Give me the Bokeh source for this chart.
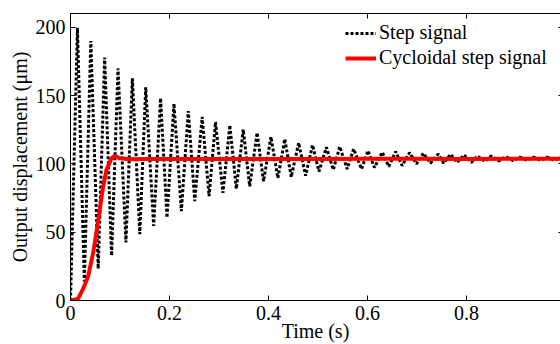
from bokeh.plotting import figure
from bokeh.models import Range1d, LinearAxis, Legend, LegendItem, FixedTicker
from bokeh.embed import file_html
from bokeh.resources import INLINE

# Step signal: extrema (time in s, displacement in um)
step_t = [0.000, 0.014, 0.028, 0.041, 0.056, 0.069, 0.083, 0.096, 0.112, 0.125,
          0.140, 0.152, 0.168, 0.182, 0.195, 0.209, 0.224, 0.238, 0.251, 0.266,
          0.280, 0.293, 0.308, 0.322, 0.335, 0.349, 0.362, 0.377, 0.390, 0.405,
          0.419, 0.433, 0.446, 0.461, 0.475, 0.489, 0.502, 0.517, 0.531, 0.544,
          0.559, 0.572, 0.588, 0.601, 0.614, 0.630, 0.643, 0.657, 0.670, 0.685,
          0.699, 0.713, 0.727, 0.743, 0.754, 0.768, 0.781, 0.795, 0.810, 0.822,
          0.838, 0.850, 0.866, 0.879, 0.894, 0.908, 0.922, 0.935, 0.950, 0.963,
          0.978, 0.990]
step_v = [0.0, 199.5, 14.0, 189.9, 23.2, 177.8, 32.8, 169.8, 42.5, 162.5,
          48.6, 156.0, 54.6, 148.0, 60.6, 144.0, 65.4, 138.6, 72.7, 134.3,
          76.3, 130.6, 78.8, 128.3, 81.7, 125.1, 83.6, 122.7, 87.2, 119.8,
          89.6, 118.1, 90.3, 115.4, 91.3, 113.8, 94.4, 112.1, 95.7, 112.6,
          96.2, 110.9, 96.2, 109.6, 97.3, 108.5, 98.0, 109.0, 98.6, 108.2,
          100.0, 107.7, 100.5, 107.2, 100.5, 107.0, 101.0, 106.5, 101.0, 105.8,
          101.7, 105.8, 102.0, 105.3, 102.3, 104.9, 102.5, 104.9, 102.5, 104.9,
          102.5, 104.5]

# Cycloidal step signal
cyc_t = [0.000, 0.005, 0.0155, 0.0257, 0.0358, 0.0459, 0.0525, 0.0592, 0.066,
         0.0727, 0.0828, 0.0895, 0.0996, 0.12, 0.15, 0.2, 0.3, 0.4, 0.5, 0.6,
         0.7, 0.8, 0.9, 0.99]
cyc_v = [0.0, 0.3, 1.4, 8.7, 18.0, 35.0, 50.0, 67.0, 83.5,
         95.6, 104.0, 105.8, 104.0, 103.4, 103.6, 103.6, 103.5, 103.6, 103.5, 103.7,
         103.7, 103.6, 103.8, 103.8]

x_ticks = [0, 0.2, 0.4, 0.6, 0.8]
y_ticks = [0, 50, 100, 150, 200]

FONT = "Liberation Serif"

p = figure(width=560, height=344, output_backend="svg", toolbar_location=None,
           x_range=Range1d(0, 0.99), y_range=Range1d(0, 210),
           min_border_left=70, min_border_right=0, min_border_top=13,
           min_border_bottom=42, x_axis_label="Time (s)",
           y_axis_label="Output displacement (μm)")
p.outline_line_color = None
p.grid.visible = False
p.background_fill_color = "white"
p.border_fill_color = "white"


def style_axis(ax, show_labels=True):
    ax.axis_line_color = "black"
    ax.axis_line_width = 1
    ax.major_tick_line_color = "black"
    ax.major_tick_in = 5
    ax.major_tick_out = 0
    ax.minor_tick_line_color = None
    ax.major_label_text_font = FONT
    ax.axis_label_text_font = FONT
    ax.axis_label_text_font_style = "normal"
    ax.axis_label_text_font_size = "20px"
    ax.axis_label_text_color = "black"
    if show_labels:
        ax.major_label_text_font_size = "20px"
        ax.major_label_text_color = "black"
    else:
        ax.major_label_text_font_size = "1px"
        ax.major_label_text_color = None
        ax.major_label_standoff = 0


p.xaxis.ticker = FixedTicker(ticks=x_ticks)
p.yaxis.ticker = FixedTicker(ticks=y_ticks)
style_axis(p.xaxis[0])
style_axis(p.yaxis[0])
p.xaxis.major_label_standoff = 5
p.xaxis.axis_label_standoff = -3
p.yaxis.major_label_standoff = 5
p.yaxis.axis_label_standoff = 2

top = LinearAxis(ticker=FixedTicker(ticks=x_ticks))
style_axis(top, show_labels=False)
p.add_layout(top, "above")

right = LinearAxis(ticker=FixedTicker(ticks=y_ticks))
style_axis(right, show_labels=False)
right.axis_line_color = None
right.major_tick_in = 2
p.add_layout(right, "right")

r_step = p.line(step_t, step_v, line_color="black", line_width=3,
                line_dash="3 2")
r_cyc = p.line(cyc_t, cyc_v, line_color="#ff0000", line_width=4)

legend = Legend(items=[LegendItem(label="Step signal", renderers=[r_step]),
                       LegendItem(label="Cycloidal step signal", renderers=[r_cyc])],
                location=(275, 231))
legend.label_text_font = FONT
legend.label_text_font_size = "20px"
legend.label_text_color = "black"
legend.glyph_width = 31
legend.glyph_height = 20
legend.label_height = 20
legend.label_standoff = 3
legend.padding = 0
legend.spacing = 2
legend.margin = 0
legend.border_line_color = None
legend.background_fill_alpha = 0
p.add_layout(legend)

open("out.html", "w").write(file_html(p, INLINE))
